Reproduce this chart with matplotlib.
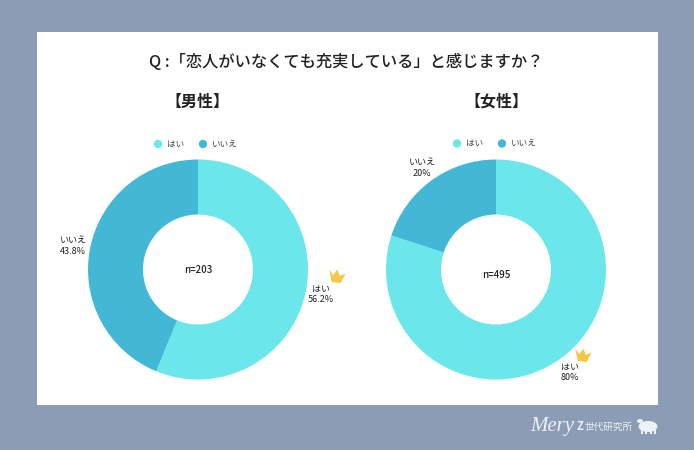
import math
import matplotlib
matplotlib.use("Agg")
import matplotlib.pyplot as plt
from matplotlib.patches import Rectangle, Polygon, Ellipse, Circle

plt.rcParams['font.family'] = ['Noto Sans CJK JP', 'DejaVu Sans']

W, H = 694, 450
BG = '#8B9CB4'
C_YES = '#6BE6EA'
C_NO = '#43B7D6'
TXT = '#222222'

question = 'Q :「恋人がいなくても充実している」と感じますか？'
categories = ['はい', 'いいえ']
male_values = [56.2, 43.8]
female_values = [80, 20]
male_n = 'n=203'
female_n = 'n=495'
male_labels = ['はい\n56.2%', 'いいえ\n43.8%']
female_labels = ['はい\n80%', 'いいえ\n20%']

fig = plt.figure(figsize=(W / 100, H / 100), dpi=100, facecolor=BG)
ov = fig.add_axes([0, 0, 1, 1], zorder=3)
ov.set_xlim(0, W)
ov.set_ylim(H, 0)
ov.axis('off')
ov.patch.set_alpha(0)
fig.add_artist(Rectangle((37 / W, 1 - 405 / H), 621 / W, 373 / H, transform=fig.transFigure,
                         facecolor='white', edgecolor='none', zorder=0))


def donut(cx, cy, r, values):
    ax = fig.add_axes([(cx - r) / W, 1 - (cy + r) / H, 2 * r / W, 2 * r / H], zorder=2)
    ax.pie(values, colors=[C_YES, C_NO], startangle=90, counterclock=False, radius=1.0,
           wedgeprops=dict(width=0.5, linewidth=0))
    ax.set_xlim(-1, 1)
    ax.set_ylim(-1, 1)
    ax.set_aspect('equal')
    ax.axis('off')


donut(198, 269.5, 110, male_values)
donut(496, 269.5, 110, female_values)

ov.text(346.5, 62.5, question, ha='center', va='center', fontsize=11.7, color=TXT, fontweight='medium')
ov.text(197, 102, '【男性】', ha='center', va='center', fontsize=11.5, color=TXT, fontweight='bold')
ov.text(496, 101, '【女性】', ha='center', va='center', fontsize=11.5, color=TXT, fontweight='bold')

ov.text(198, 270, male_n, ha='center', va='center', fontsize=7, color=TXT, fontweight='medium')
ov.text(496, 275, female_n, ha='center', va='center', fontsize=7, color=TXT, fontweight='medium')


def legend(x1, x2, y):
    for x, c, s in zip((x1, x2), (C_YES, C_NO), categories):
        ov.add_patch(Circle((x, y), 4.2, facecolor=c, edgecolor='none'))
        ov.text(x + 9, y, s, ha='left', va='center', fontsize=6.2, color='#444444')


legend(158, 203, 144)
legend(457, 502, 143.5)

ov.text(321, 294, male_labels[0], ha='center', va='center', fontsize=6.5, color=TXT, linespacing=1.15)
ov.text(73, 246, male_labels[1], ha='center', va='center', fontsize=6.5, color=TXT, linespacing=1.15)
ov.text(570, 372, female_labels[0], ha='center', va='center', fontsize=6.5, color=TXT, linespacing=1.15)
ov.text(422, 168, female_labels[1], ha='center', va='center', fontsize=6.5, color=TXT, linespacing=1.15)


def crown(x, y, s=1.0, rot=0.0):
    pts = [(-8, -6), (-3.5, -1), (0, -7), (3, -1), (8.5, -4), (5, 6), (-4, 6)]
    c, n = math.cos(rot), math.sin(rot)
    ov.add_patch(Polygon([(x + s * (a * c - b * n), y + s * (a * n + b * c)) for a, b in pts],
                         closed=True, facecolor='#F8C545', edgecolor='none'))


crown(336.5, 276.5, 1.0, 0.12)
crown(582.5, 355.5, 1.0, 0.12)

# Logo
ov.text(530, 426, 'Mery', ha='left', va='center', fontsize=15, color='#EEF2F6', style='italic',
        family='Liberation Serif')
ov.text(576.5, 427, 'Z', ha='left', va='center', fontsize=8, color='#EEF2F6', fontweight='bold')
ov.text(585, 427, '世代研究所', ha='left', va='center', fontsize=6.9, color='#EEF2F6')
ov.add_patch(Ellipse((648, 426.5), 19, 11, facecolor='#EEF2F6', edgecolor='none'))
ov.add_patch(Ellipse((640, 421), 6, 4, facecolor='#EEF2F6', edgecolor='none'))
for x in (642, 646, 651, 655):
    ov.add_patch(Rectangle((x - 0.6, 428), 1.3, 6, facecolor='#EEF2F6', edgecolor='none'))

fig.savefig('out.png', dpi=100, facecolor=BG)
